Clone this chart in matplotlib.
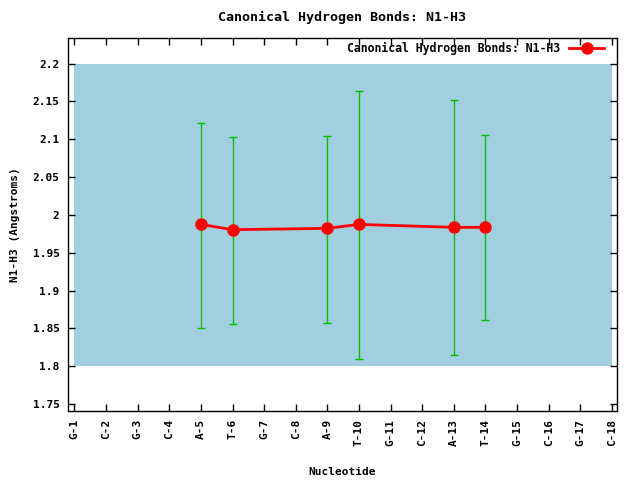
import numpy as np
import matplotlib
matplotlib.use("Agg")
import matplotlib.pyplot as plt
from matplotlib.patches import Rectangle

# Nucleotide labels along the x axis
nucleotides = ["G-1", "C-2", "G-3", "C-4", "A-5", "T-6", "G-7", "C-8", "A-9",
               "T-10", "G-11", "C-12", "A-13", "T-14", "G-15", "C-16", "G-17", "C-18"]

# Measured points (index into nucleotides)
point_idx = [4, 5, 8, 9, 12, 13]
bond_mean = [1.9875, 1.9805, 1.9823, 1.9875, 1.9836, 1.9836]
bond_high = [2.122, 2.103, 2.105, 2.164, 2.152, 2.106]
bond_low = [1.850, 1.856, 1.857, 1.809, 1.815, 1.861]

# Canonical range shaded in the background
range_low, range_high = 1.8, 2.2

y_ticks = [1.75, 1.8, 1.85, 1.9, 1.95, 2.0, 2.05, 2.1, 2.15, 2.2]
y_tick_labels = ["1.75", "1.8", "1.85", "1.9", "1.95", "2", "2.05", "2.1", "2.15", "2.2"]

plt.rcParams["font.family"] = ["DejaVu Sans Mono"]
plt.rcParams["font.weight"] = "bold"
plt.rcParams["axes.titleweight"] = "bold"
plt.rcParams["axes.labelweight"] = "bold"
plt.rcParams["font.size"] = 8

fig = plt.figure(figsize=(6.4, 4.8), dpi=100)
ax = fig.add_axes([0.106, 0.144, 0.858, 0.777])

ax.add_patch(Rectangle((0, range_low), len(nucleotides) - 1, range_high - range_low,
                       facecolor="#a1cfdf", edgecolor="none", zorder=0))

mean = np.array(bond_mean)
yerr = [mean - np.array(bond_low), np.array(bond_high) - mean]
ax.errorbar(point_idx, bond_mean, yerr=yerr, fmt="none", ecolor="#00c000",
            elinewidth=1, capsize=3, capthick=1, zorder=2)
ax.plot(point_idx, bond_mean, color="red", lw=2, marker="o", markersize=8,
        label="Canonical Hydrogen Bonds: N1-H3", zorder=3)

ax.set_xlim(-0.21, 17.16)
ax.set_ylim(1.741, 2.234)
ax.set_xticks(range(len(nucleotides)))
ax.set_xticklabels(nucleotides, rotation=90)
ax.set_yticks(y_ticks)
ax.set_yticklabels(y_tick_labels)
ax.tick_params(direction="in", top=True, right=True, length=5, width=1, pad=6)
for s in ax.spines.values():
    s.set_linewidth(1)

ax.set_xlabel("Nucleotide", labelpad=15)
ax.set_ylabel("N1-H3 (Angstroms)", labelpad=9)
ax.set_title("Canonical Hydrogen Bonds: N1-H3", pad=12)

ax.legend(loc="upper right", bbox_to_anchor=(0.989, 1.008), frameon=False,
          markerfirst=False, handlelength=3, borderaxespad=0.2,
          prop={"size": 8.3, "weight": "bold"})

fig.savefig("out.png", dpi=100)
